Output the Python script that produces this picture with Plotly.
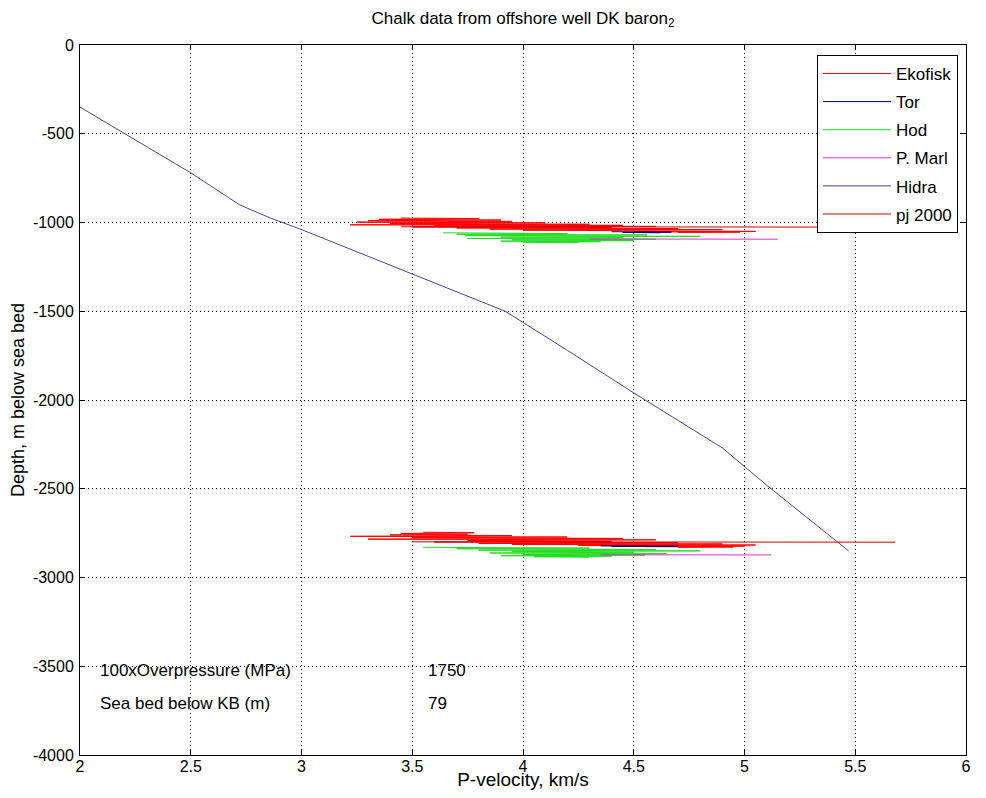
import plotly.graph_objects as go

# Hidra trend line
hidra_v = [2.00, 2.50, 2.72, 2.86, 3.00, 3.50, 3.80, 3.92, 4.20, 4.50, 4.90, 5.10, 5.47]
hidra_d = [-350, -720, -900, -975, -1040, -1290, -1440, -1500, -1720, -1960, -2270, -2480, -2850]

# upper chalk interval
eko_up_v = [3.45, 3.80, 3.35, 3.90, 3.30, 3.95, 3.25, 4.10, 3.40, 4.30, 3.22, 4.45, 3.60, 4.60,
            3.50, 4.40, 3.70, 4.70, 3.85, 4.90, 4.00, 5.02, 4.30, 5.05, 4.50, 4.98, 4.70]
eko_up_d = [-975, -978, -982, -986, -990, -994, -998, -1002, -1006, -1010, -1013, -1016, -1019, -1022,
            -1025, -1028, -1031, -1034, -1037, -1040, -1043, -1046, -1048, -1050, -1052, -1054, -1056]
tor_up_v = [4.40, 4.67, 4.45, 4.62]
tor_up_d = [-1052, -1054, -1056, -1058]
hod_up_v = [3.64, 4.20, 3.70, 4.56, 3.74, 4.80, 3.90, 4.45, 3.75, 4.60, 3.95, 4.50, 3.90, 4.35, 4.00, 4.25]
hod_up_d = [-1058, -1062, -1066, -1070, -1074, -1078, -1082, -1086, -1090, -1094, -1098, -1102, -1105, -1108, -1111, -1114]
marl_up_v = [4.30, 5.15]
marl_up_d = [-1093, -1094]
pj_up_v = [3.45, 5.72]
pj_up_d = [-1024, -1026]

# lower chalk interval
eko_lo_v = [3.55, 3.78, 3.45, 3.75, 3.40, 3.95, 3.22, 4.20, 3.50, 4.45, 3.30, 4.60, 3.75, 4.40,
            3.60, 4.70, 3.80, 4.90, 3.95, 5.05, 4.25, 5.00, 4.55, 4.95, 4.70]
eko_lo_d = [-2745, -2748, -2752, -2756, -2760, -2764, -2768, -2772, -2776, -2780, -2784, -2788, -2792, -2796,
            -2800, -2804, -2808, -2811, -2814, -2817, -2820, -2823, -2826, -2828, -2830]
tor_lo_v = [4.35, 4.70, 4.40]
tor_lo_d = [-2822, -2824, -2826]
hod_lo_v = [3.55, 4.30, 3.70, 4.60, 3.80, 4.80, 3.95, 4.50, 3.85, 4.65, 4.00, 4.55, 3.90, 4.40, 4.05, 4.30]
hod_lo_d = [-2830, -2834, -2838, -2842, -2846, -2850, -2854, -2858, -2862, -2866, -2870, -2874, -2877, -2880, -2883, -2886]
marl_lo_v = [4.35, 5.12]
marl_lo_d = [-2872, -2873]
pj_lo_v = [3.50, 5.68]
pj_lo_d = [-2799, -2801]

x_ticks = [2, 2.5, 3, 3.5, 4, 4.5, 5, 5.5, 6]
y_ticks = [0, -500, -1000, -1500, -2000, -2500, -3000, -3500, -4000]

FONT = "Liberation Sans, Arial, sans-serif"

series = [
    ("Ekofisk", "#ff0000", eko_up_v + [None] + eko_lo_v, eko_up_d + [None] + eko_lo_d),
    ("Tor", "#00007f", tor_up_v + [None] + tor_lo_v, tor_up_d + [None] + tor_lo_d),
    ("Hod", "#22dd22", hod_up_v + [None] + hod_lo_v, hod_up_d + [None] + hod_lo_d),
    ("P. Marl", "#d035d0", marl_up_v + [None] + marl_lo_v, marl_up_d + [None] + marl_lo_d),
    ("Hidra", "#45459f", hidra_v, hidra_d),
    ("pj 2000", "#cc0000", pj_up_v + [None] + pj_lo_v, pj_up_d + [None] + pj_lo_d),
]

fig = go.Figure()
for name, color, xs, ys in series:
    fig.add_trace(go.Scatter(
        x=xs, y=ys, mode="lines", name=name, legendgroup=name,
        line=dict(color=color, width=1),
        connectgaps=False,
    ))

# text block in lower left
txt_font = dict(size=17, color="black", family=FONT)
fig.add_annotation(x=2.08, y=-3525, text="100xOverpressure (MPa)", xanchor="left", showarrow=False, font=txt_font)
fig.add_annotation(x=3.56, y=-3525, text="1750", xanchor="left", showarrow=False, font=txt_font)
fig.add_annotation(x=2.08, y=-3712, text="Sea bed below KB (m)", xanchor="left", showarrow=False, font=txt_font)
fig.add_annotation(x=3.56, y=-3712, text="79", xanchor="left", showarrow=False, font=txt_font)

axis_common = dict(
    showgrid=True, gridcolor="black", griddash="1px,3px", gridwidth=1,
    zeroline=False, showline=True, linecolor="black", linewidth=1, mirror="ticks",
    ticks="inside", ticklen=5, tickcolor="black",
    tickfont=dict(size=16, color="black", family=FONT),
    automargin=False,
)

# the page body has an 8px margin, so the figure is drawn 8px in and down
fig.update_layout(
    width=970, height=782,
    margin=dict(l=72, r=12, t=37, b=35),
    paper_bgcolor="white", plot_bgcolor="white",
    font=dict(family=FONT, color="black"),
    title=dict(text="Chalk data from offshore well DK baron<sub>2</sub>", x=0.5, xref="paper",
               yref="container", y=0.9875, yanchor="middle", font=dict(size=17, color="black", family=FONT)),
    xaxis=dict(range=[2, 6], tickvals=x_ticks, ticktext=[f"{v:g}" for v in x_ticks],
               ticklabelstandoff=-3,
               title=dict(text="P-velocity, km/s", font=dict(size=19), standoff=8), **axis_common),
    yaxis=dict(range=[-4000, 0], tickvals=y_ticks, ticktext=[str(v) for v in y_ticks],
               ticklabelstandoff=2,
               title=dict(text="Depth, m below sea bed", font=dict(size=18), standoff=8), **axis_common),
    legend=dict(x=0.991, y=0.986, xanchor="right", yanchor="top", bgcolor="white",
                bordercolor="black", borderwidth=1, font=dict(size=17, color="black", family=FONT),
                tracegroupgap=3, itemwidth=68),
    showlegend=True,
)

fig.write_html("out.html")
